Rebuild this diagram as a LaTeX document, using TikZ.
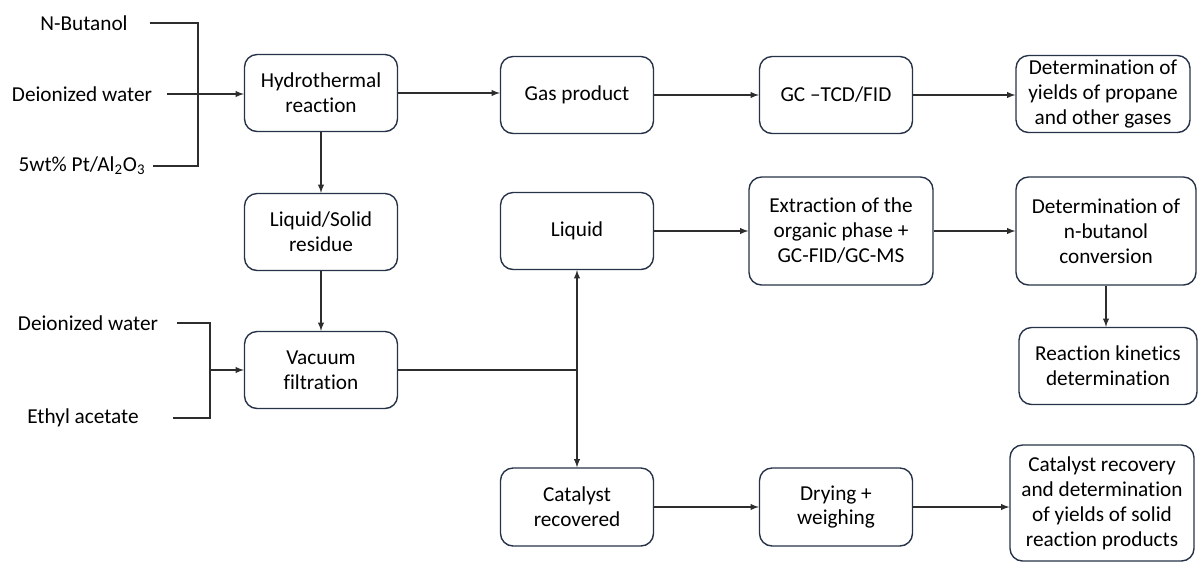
\documentclass[tikz,border=0pt]{standalone}
\usepackage{fontspec}
\setmainfont{Carlito}[Ligatures={TeX,NoCommon,NoContextual,NoRare}, RawFeature={-liga;-clig;-dlig;-calt}]
\usepackage{tikz}
\definecolor{boxline}{RGB}{38,50,72}
\definecolor{wire}{RGB}{45,45,45}
\tikzset{
	stepbox/.style={draw=boxline, line width=0.8pt, rounded corners=0.25cm, align=center,
		inner sep=2pt, minimum width=3.06cm, minimum height=1.54cm},
	wire/.style={draw=wire, line width=0.6pt},
}

\begin{document}
\begin{tikzpicture}[x=0.02cm, y=-0.02cm, font=\fontsize{12.1}{14.2}\selectfont]
	\useasboundingbox (0,0) rectangle (1198,562);

	\node (butanol) at (84, 23) {N-Butanol};
	\node (water) at (82, 94) {Deionized water};
	\node (pt) at (82, 166) {5wt\% Pt/Al\textsubscript{2}O\textsubscript{3}};
	\node (water2) at (88, 323) {Deionized water};
	\node (ethyl) at (83, 418) {Ethyl acetate};

	\node[stepbox] (hydro) at (321, 93) {Hydrothermal\\reaction};
	\node[stepbox] (gas) at (577, 95) {Gas product};
	\node[stepbox] (gc) at (836, 95) {GC --TCD/FID};
	\node[stepbox, minimum width=3.48cm] (yields) at (1103, 94) {Determination of\\yields of propane\\and other gases};

	\node[stepbox] (residue) at (321, 232) {Liquid/Solid\\residue};
	\node[stepbox] (liquid) at (577, 231) {Liquid};
	\node[stepbox, minimum width=3.68cm, minimum height=2.16cm] (extract) at (841, 231) {Extraction of the\\organic phase +\\GC-FID/GC-MS};
	\node[stepbox, minimum width=3.6cm, minimum height=2.16cm] (conv) at (1106, 231) {Determination of\\n-butanol\\conversion};
	\node[stepbox, minimum width=3.56cm] (kinetics) at (1108, 366) {Reaction kinetics\\determination};

	\node[stepbox] (vacuum) at (321, 370) {Vacuum\\filtration};
	\node[stepbox, minimum height=1.56cm] (catrec) at (577, 507) {Catalyst\\recovered};
	\node[stepbox, minimum height=1.56cm] (drying) at (836, 507) {Drying +\\weighing};
	\node[stepbox, minimum width=3.68cm, minimum height=2.32cm] (solid) at (1102, 503) {Catalyst recovery\\and determination\\of yields of solid\\reaction products};

	\coordinate (mixA) at (198, 94);
	\coordinate (mixB) at (210, 370);
	\coordinate (split) at (577, 370);

	\draw[wire] ([xshift=9pt]butanol.east) -| (mixA);
	\draw[wire] ([xshift=1pt]pt.east) -| (mixA);
	\draw[wire, -latex] ([xshift=5pt]water.east) -- (hydro.west |- water);
	\draw[wire, -latex] (hydro) -- (residue);
	\draw[wire, -latex] (residue) -- (vacuum);
	\draw[wire, -latex] (hydro.east) -- (hydro.east -| gas.west);
	\draw[wire, -latex] (gas) -- (gc);
	\draw[wire, -latex] (gc) -- (gc.east -| yields.west);

	\draw[wire] ([xshift=7pt]water2.east) -| (mixB);
	\draw[wire] ([xshift=16pt]ethyl.east) -| (mixB);
	\draw[wire, -latex] (mixB) -- (vacuum);
	\draw[wire] (vacuum) -- (split);
	\draw[wire, -latex] (split) -- (liquid);
	\draw[wire, -latex] (split) -- (catrec);

	\draw[wire, -latex] (liquid) -- (extract);
	\draw[wire, -latex] (extract) -- (conv);
	\draw[wire, -latex] (conv.south) -- (conv.south |- kinetics.north);
	\draw[wire, -latex] (catrec) -- (drying);
	\draw[wire, -latex] (drying.east) -- (drying.east -| solid.west);
\end{tikzpicture}
\end{document}
